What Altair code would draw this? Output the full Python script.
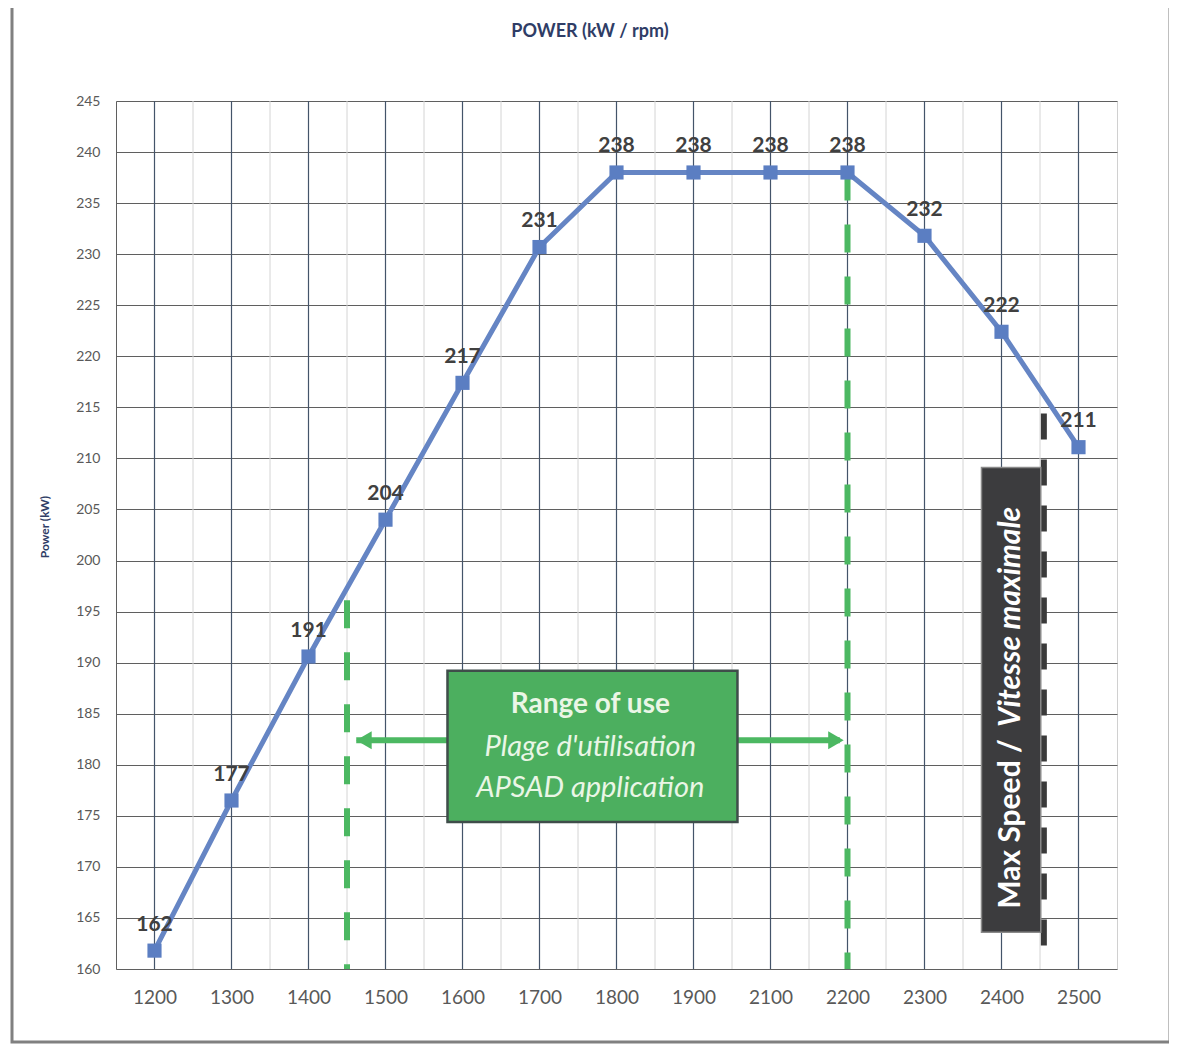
import altair as alt
import pandas as pd

# ---- data ----
rpm = [1200, 1300, 1400, 1500, 1600, 1700, 1800, 1900, 2100, 2200, 2300, 2400, 2500]
power = [161.8, 176.5, 190.6, 204.0, 217.4, 230.7, 238.0, 238.0, 238.0, 238.0, 231.8, 222.4, 211.1]
point_labels = ["162", "177", "191", "204", "217", "231", "238", "238", "238", "238", "232", "222", "211"]
y_ticks = list(range(160, 246, 5))

title_text = "POWER (kW / rpm)"
y_title = "Power (kW)"
range_lines = ["Range of use", "Plage d'utilisation", "APSAD application"]
max_speed_a = "Max Speed /"
max_speed_b = "Vitesse maximale"

# range of use boundaries (rpm) and max speed (rpm)
range_start_rpm, range_start_top = 1450, 196.1
range_end_rpm, range_end_top = 2200, 238.0
max_speed_rpm, max_speed_top, max_speed_bottom = 2455, 214.4, 161.4

def pos_of(r):
    """map an rpm value onto the evenly spaced category positions"""
    for i in range(len(rpm) - 1):
        if rpm[i] <= r <= rpm[i + 1]:
            return i + (r - rpm[i]) / (rpm[i + 1] - rpm[i])
    return float(len(rpm) - 1)

FONT = "Lato"
W, H = 1001, 868

df = pd.DataFrame({"pos": list(range(len(rpm))), "rpm": rpm, "power": power, "lab": point_labels})

label_expr = "[" + ",".join("'%d'" % r for r in rpm) + "][round(datum.value)]"
xs = alt.Scale(domain=[-0.5, len(rpm) - 0.5], nice=False, zero=False)
ys = alt.Scale(domain=[160, 245], nice=False, zero=False)

x_axis = alt.Axis(values=list(range(len(rpm))), labelExpr=label_expr, grid=False, ticks=False,
                  domain=False, labelFont=FONT, labelFontSize=19, labelColor="#595959",
                  labelPadding=19, title=None)
y_axis = alt.Axis(values=y_ticks, grid=True, gridColor="#5f5f5f", gridWidth=1, ticks=False,
                  domain=True, domainColor="#5f5f5f", labelFont=FONT, labelFontSize=14,
                  labelColor="#595959", labelPadding=16, title=None)

one = pd.DataFrame({"a": [0]})

# outer frame
frame = alt.Chart(one).mark_rect(filled=False, stroke="#808080", strokeWidth=3).encode(
    x=alt.value(-104), x2=alt.value(1054), y=alt.value(-96), y2=alt.value(941))
frame_top = alt.Chart(one).mark_rule(stroke="#555555", strokeWidth=4).encode(
    x=alt.value(-106), x2=alt.value(1056), y=alt.value(-98))

# vertical grid lines
minor = pd.DataFrame({"p": [i + 0.5 for i in range(len(rpm) - 1)]})
minor_rules = alt.Chart(minor).mark_rule(color="#d4d4d4", strokeWidth=1).encode(
    x=alt.X("p:Q", scale=xs, axis=x_axis))
major_rules = alt.Chart(df).mark_rule(color="#44546a", strokeWidth=1.2).encode(
    x=alt.X("pos:Q", scale=xs))

base = alt.Chart(df).encode(
    x=alt.X("pos:Q", scale=xs, axis=x_axis),
    y=alt.Y("power:Q", scale=ys, axis=y_axis),
)

# green dashed range lines
green_df = pd.DataFrame({"p": [pos_of(range_start_rpm), pos_of(range_end_rpm)],
                         "top": [range_start_top, range_end_top], "bot": [160, 160]})
green_lines = alt.Chart(green_df).mark_rule(color="#4cb862", strokeWidth=6, strokeDash=[28, 24]).encode(
    x=alt.X("p:Q", scale=xs), y=alt.Y("top:Q", scale=ys), y2="bot:Q")

# black dashed max speed line
black_df = pd.DataFrame({"p": [pos_of(max_speed_rpm)], "top": [max_speed_top], "bot": [max_speed_bottom]})
black_line = alt.Chart(black_df).mark_rule(color="#3a3a3a", strokeWidth=6, strokeDash=[26, 20]).encode(
    x=alt.X("p:Q", scale=xs), y=alt.Y("top:Q", scale=ys), y2="bot:Q")

# arrows of the range of use
arrow_y = 182.4
arrow_df = pd.DataFrame({"x1": [2.62, 7.57], "x2": [3.81, 8.90], "y": [arrow_y, arrow_y]})
arrow_lines = alt.Chart(arrow_df).mark_rule(color="#4cb862", strokeWidth=6).encode(
    x=alt.X("x1:Q", scale=xs), x2="x2:Q", y=alt.Y("y:Q", scale=ys))
head_df = pd.DataFrame({"x": [2.72, 8.85], "y": [arrow_y, arrow_y], "s": ["triangle-left", "triangle-right"]})
arrow_heads = alt.Chart(head_df).mark_point(filled=True, color="#4cb862", opacity=1, size=320).encode(
    x=alt.X("x:Q", scale=xs), y=alt.Y("y:Q", scale=ys),
    shape=alt.Shape("s:N", scale=None, legend=None))

# green box
gbox_df = pd.DataFrame({"x1": [3.805], "x2": [7.571], "y1": [189.2], "y2": [174.4]})
gbox = alt.Chart(gbox_df).mark_rect(fill="#4caf5f", stroke="#3f4d4a", strokeWidth=2.5).encode(
    x=alt.X("x1:Q", scale=xs), x2="x2:Q", y=alt.Y("y1:Q", scale=ys), y2="y2:Q")
gtext_df = pd.DataFrame({"t": range_lines, "x": [5.66, 5.66, 5.66], "y": [185.9, 181.75, 177.7]})
gtext1 = alt.Chart(gtext_df.iloc[[0]]).mark_text(font=FONT, fontSize=28, fontWeight="bold",
                                                 color="#eaf6e6", baseline="middle").encode(
    x=alt.X("x:Q", scale=xs), y=alt.Y("y:Q", scale=ys), text="t:N")
gtext2 = alt.Chart(gtext_df.iloc[[1, 2]]).mark_text(font=FONT, fontSize=29, fontStyle="italic",
                                                    color="#eaf6e6", baseline="middle").encode(
    x=alt.X("x:Q", scale=xs), y=alt.Y("y:Q", scale=ys), text="t:N")

# black box
bbox_df = pd.DataFrame({"x1": [10.74], "x2": [11.51], "y1": [209.1], "y2": [163.6]})
bbox = alt.Chart(bbox_df).mark_rect(fill="#3c3c3e", stroke="#8a8a8a", strokeWidth=1.5).encode(
    x=alt.X("x1:Q", scale=xs), x2="x2:Q", y=alt.Y("y1:Q", scale=ys), y2="y2:Q")
btext_df = pd.DataFrame({"t": [max_speed_a, max_speed_b], "x": [11.12, 11.12], "y": [165.9, 183.7]})
btext1 = alt.Chart(btext_df.iloc[[0]]).mark_text(font=FONT, fontSize=30, fontWeight="bold", angle=270,
                                                 align="left", baseline="middle", color="#ffffff").encode(
    x=alt.X("x:Q", scale=xs), y=alt.Y("y:Q", scale=ys), text="t:N")
btext2 = alt.Chart(btext_df.iloc[[1]]).mark_text(font=FONT, fontSize=30, fontWeight="bold", fontStyle="italic",
                                                 angle=270, align="left", baseline="middle", color="#ffffff").encode(
    x=alt.X("x:Q", scale=xs), y=alt.Y("y:Q", scale=ys), text="t:N")

# the power curve
line = base.mark_line(color="#6585c4", strokeWidth=5)
points = base.mark_point(shape="square", filled=True, size=200, color="#5b7ec2", opacity=1)
labels = base.mark_text(font=FONT, fontSize=21, fontWeight="bold", color="#404040",
                        baseline="middle", dy=-26).encode(text="lab:N")

# titles
title = alt.Chart(pd.DataFrame({"t": [title_text]})).mark_text(
    font=FONT, fontSize=18, fontWeight="bold", color="#2f3d66", baseline="middle").encode(
    x=alt.value(474), y=alt.value(-69), text="t:N")
ytitle = alt.Chart(pd.DataFrame({"t": [y_title]})).mark_text(
    font=FONT, fontSize=12, fontWeight="bold", color="#2f3d66", baseline="middle", angle=270).encode(
    x=alt.value(-71), y=alt.value(426), text="t:N")

chart = alt.layer(
    frame, frame_top, minor_rules, major_rules, base.mark_line(opacity=0), green_lines, black_line,
    arrow_lines, arrow_heads, gbox, gtext1, gtext2, bbox, btext1, btext2,
    line, points, labels, title, ytitle,
).properties(
    width=W, height=H,
    autosize=alt.AutoSizeParams(type="none"),
    padding={"left": 108, "top": 93, "right": 52, "bottom": 75},
    background="white",
).configure_view(stroke="#d0d0d0")

chart.save("out.html", embed_options={"renderer": "svg", "actions": False})
